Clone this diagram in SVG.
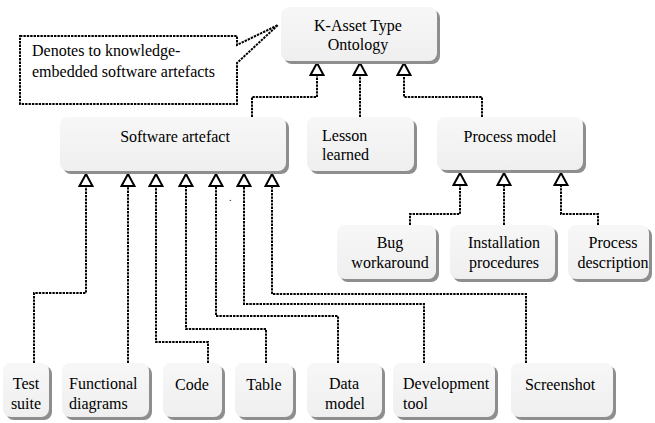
<svg xmlns="http://www.w3.org/2000/svg" width="655" height="423" viewBox="0 0 655 423" font-family="'Liberation Serif', 'Times New Roman', serif" font-size="16">
<style>
  .sh { fill: #8e8e8e; }
  .bx { fill: url(#g); }
  .m { text-anchor: middle; }
  .c { fill: none; stroke: #000; stroke-width: 2; stroke-dasharray: 2.4 1; marker-end: url(#tri); }
  .callout { fill: #fff; stroke: #000; stroke-width: 2; stroke-dasharray: 2.4 1; }
</style>
<defs>
  <linearGradient id="g" x1="0" y1="0" x2="0" y2="1">
    <stop offset="0" stop-color="#f7f7f7"/>
    <stop offset="1" stop-color="#efefef"/>
  </linearGradient>
  <marker id="tri" markerUnits="userSpaceOnUse" markerWidth="16" markerHeight="16" viewBox="-1.5 -1.5 16 16" refX="12" refY="6.5" orient="auto">
    <path d="M0,0 L12,6.5 L0,13 Z" fill="#fff" stroke="#000" stroke-width="2"/>
  </marker>
</defs>
<rect width="655" height="423" fill="#fff"/>

<g id="callout">
  <path class="callout" d="M20,36 H237 V45 L278,25 L237,63 V104 H20 Z"/>
  <text x="32" y="56">Denotes to knowledge-</text>
  <text x="32" y="77">embedded software artefacts</text>
</g>

<g id="connectors">
  <polyline class="c" points="34,363 34,293 86,293 86,174"/>
  <polyline class="c" points="128,363 128,174"/>
  <polyline class="c" points="208,363 208,342 156,342 156,174"/>
  <polyline class="c" points="266,363 266,329 186,329 186,174"/>
  <polyline class="c" points="338,363 338,316 216,316 216,174"/>
  <polyline class="c" points="424,363 424,304 244,304 244,174"/>
  <polyline class="c" points="526,363 526,294 272,294 272,174"/>
  <polyline class="c" points="252,117 252,97 317,97 317,63"/>
  <polyline class="c" points="360,117 360,63"/>
  <polyline class="c" points="482,117 482,97 404,97 404,63"/>
  <polyline class="c" points="410,225 410,214 460,214 460,173"/>
  <polyline class="c" points="504,225 504,173"/>
  <polyline class="c" points="598,225 598,214 561,214 561,173"/>
</g>

<g id="k-asset">
  <rect class="sh" x="284" y="10" width="156" height="54" rx="8"/>
  <rect class="bx" x="281" y="7" width="156" height="54" rx="8"/>
  <text class="m" x="358" y="31">K-Asset Type</text>
  <text class="m" x="358" y="50">Ontology</text>
</g>

<g id="software-artefact">
  <rect class="sh" x="63" y="120" width="226" height="54" rx="8"/>
  <rect class="bx" x="60" y="117" width="226" height="54" rx="8"/>
  <text class="m" x="175" y="142">Software artefact</text>
</g>

<g id="lesson-learned">
  <rect class="sh" x="310" y="120" width="107" height="54" rx="8"/>
  <rect class="bx" x="307" y="117" width="107" height="54" rx="8"/>
  <text x="322" y="141">Lesson</text>
  <text x="322" y="160">learned</text>
</g>

<g id="process-model">
  <rect class="sh" x="440" y="120" width="146" height="53" rx="8"/>
  <rect class="bx" x="437" y="117" width="146" height="53" rx="8"/>
  <text class="m" x="510" y="142">Process model</text>
</g>

<g id="bug-workaround">
  <rect class="sh" x="340" y="228" width="99" height="54" rx="8"/>
  <rect class="bx" x="337" y="225" width="99" height="54" rx="8"/>
  <text class="m" x="390" y="248">Bug</text>
  <text class="m" x="390" y="268">workaround</text>
</g>

<g id="installation-procedures">
  <rect class="sh" x="453" y="228" width="105" height="54" rx="8"/>
  <rect class="bx" x="450" y="225" width="105" height="54" rx="8"/>
  <text class="m" x="504" y="248">Installation</text>
  <text class="m" x="504" y="268">procedures</text>
</g>

<g id="process-description">
  <rect class="sh" x="571" y="228" width="81" height="54" rx="8"/>
  <rect class="bx" x="568" y="225" width="81" height="54" rx="8"/>
  <text class="m" x="613" y="248">Process</text>
  <text class="m" x="613" y="268">description</text>
</g>

<g id="test-suite">
  <rect class="sh" x="6" y="366" width="46" height="54" rx="8"/>
  <rect class="bx" x="3" y="363" width="46" height="54" rx="8"/>
  <text class="m" x="26" y="389">Test</text>
  <text class="m" x="26" y="409">suite</text>
</g>

<g id="functional-diagrams">
  <rect class="sh" x="65" y="366" width="87" height="54" rx="8"/>
  <rect class="bx" x="62" y="363" width="87" height="54" rx="8"/>
  <text x="69" y="389">Functional</text>
  <text x="69" y="409">diagrams</text>
</g>

<g id="code">
  <rect class="sh" x="166" y="366" width="59" height="54" rx="8"/>
  <rect class="bx" x="163" y="363" width="59" height="54" rx="8"/>
  <text class="m" x="192" y="390">Code</text>
</g>

<g id="table">
  <rect class="sh" x="238" y="366" width="58" height="54" rx="8"/>
  <rect class="bx" x="235" y="363" width="58" height="54" rx="8"/>
  <text class="m" x="264" y="390">Table</text>
</g>

<g id="data-model">
  <rect class="sh" x="310" y="366" width="75" height="54" rx="8"/>
  <rect class="bx" x="307" y="363" width="75" height="54" rx="8"/>
  <text class="m" x="344" y="389">Data</text>
  <text class="m" x="345" y="409">model</text>
</g>

<g id="development-tool">
  <rect class="sh" x="396" y="366" width="102" height="54" rx="8"/>
  <rect class="bx" x="393" y="363" width="102" height="54" rx="8"/>
  <text x="403" y="389">Development</text>
  <text x="403" y="409">tool</text>
</g>

<g id="screenshot">
  <rect class="sh" x="514" y="366" width="102" height="54" rx="8"/>
  <rect class="bx" x="511" y="363" width="102" height="54" rx="8"/>
  <text class="m" x="560" y="390">Screenshot</text>
</g>

<text x="229" y="201" font-size="10">.</text>
</svg>
